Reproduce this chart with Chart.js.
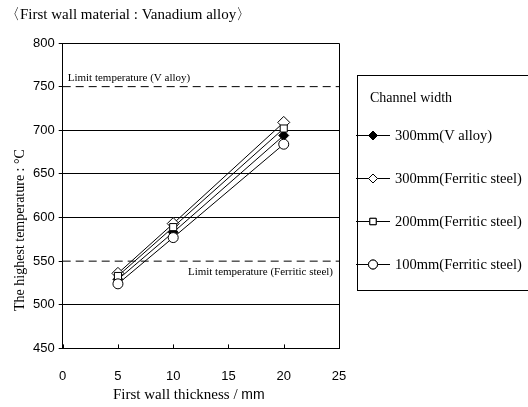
<!DOCTYPE html>
<html>
<head>
<meta charset="utf-8">
<script src="https://cdn.jsdelivr.net/npm/chart.js@4"></script>
<style>
  html, body { margin: 0; padding: 0; background: #fff; }
  #wrap { width: 528px; height: 407px; position: relative; }
</style>
</head>
<body>
<div id="wrap"><canvas id="chart"></canvas></div>
<script>
// data
const thickness = [5, 10, 20];
const vAlloy300 = [529, 583, 694];
const ferritic300 = [536, 593, 709];
const ferritic200 = [533, 589, 702];
const ferritic100 = [524, 577, 684];
const seriesLabels = ["300mm(V alloy)", "300mm(Ferritic steel)", "200mm(Ferritic steel)", "100mm(Ferritic steel)"];
const limitV = 750;
const limitFerritic = 550;
const xTicks = [0, 5, 10, 15, 20, 25];
const yTicks = [450, 500, 550, 600, 650, 700, 750, 800];

const serif = "'Liberation Serif', 'Times New Roman', serif";
const sans = "'Liberation Sans', Arial, sans-serif";

const pts = (ys) => thickness.map((x, i) => ({ x: x, y: ys[i] }));
const limitLine = (v) => [{ x: 0, y: v }, { x: 25, y: v }];

const seriesStyle = [
  { style: "rectRot", fill: "#000", r: 5 },
  { style: "rectRot", fill: "#fff", r: 6 },
  { style: "rect", fill: "#fff", r: 5 },
  { style: "circle", fill: "#fff", r: 5 },
];
const seriesData = [vAlloy300, ferritic300, ferritic200, ferritic100];

const datasets = seriesData.map((ys, i) => ({
  label: seriesLabels[i],
  data: pts(ys),
  borderColor: "#000",
  borderWidth: 1,
  pointStyle: seriesStyle[i].style,
  pointRadius: seriesStyle[i].r,
  pointBackgroundColor: seriesStyle[i].fill,
  pointBorderColor: "#000",
  pointBorderWidth: 1,
  order: 4 - i,
}));

// dashed limit lines
datasets.push({ label: "limitV", data: limitLine(limitV), borderColor: "#000", borderWidth: 1, borderDash: [8, 5], pointRadius: 0, order: 10 });
datasets.push({ label: "limitF", data: limitLine(limitFerritic), borderColor: "#000", borderWidth: 1, borderDash: [8, 5], pointRadius: 0, order: 10 });

// plot box, legend, axis titles, limit labels and inward x ticks
const extras = {
  id: "extras",
  afterDraw(chart) {
    const ctx = chart.ctx;
    const xs = chart.scales.x, ys = chart.scales.y;
    const area = chart.chartArea;
    ctx.save();
    ctx.strokeStyle = "#000";
    ctx.lineWidth = 1;
    // top and right edges of the plot box
    ctx.beginPath();
    ctx.moveTo(area.left, Math.round(area.top) + 0.5);
    ctx.lineTo(Math.round(area.right) + 0.5, Math.round(area.top) + 0.5);
    ctx.lineTo(Math.round(area.right) + 0.5, area.bottom);
    ctx.stroke();
    // x tick marks pointing up
    xTicks.forEach(t => {
      const px = Math.round(xs.getPixelForValue(t)) + 0.5;
      ctx.beginPath();
      ctx.moveTo(px, area.bottom);
      ctx.lineTo(px, area.bottom - 4);
      ctx.stroke();
    });
    ctx.fillStyle = "#000";
    // y axis title (sits lower than centre in the original)
    ctx.save();
    ctx.translate(20, 230);
    ctx.rotate(-Math.PI / 2);
    ctx.font = "14px " + serif;
    ctx.textAlign = "center";
    ctx.textBaseline = "middle";
    ctx.fillText("The highest temperature : \u00B0C", 0, 0);
    ctx.restore();
    // x axis title, serif words with a sans "mm"
    ctx.textAlign = "left";
    ctx.textBaseline = "alphabetic";
    ctx.font = "15px " + serif;
    const head = "First wall thickness / ";
    ctx.fillText(head, 113, 399);
    const w = ctx.measureText(head).width;
    ctx.font = "14px " + sans;
    ctx.fillText("mm", 113 + w, 399);
    // limit labels
    ctx.font = "11px " + serif;
    ctx.fillText("Limit temperature (V alloy)", area.left + 5, ys.getPixelForValue(limitV) - 6);
    ctx.textAlign = "right";
    ctx.fillText("Limit temperature (Ferritic steel)", area.right - 6, ys.getPixelForValue(limitFerritic) + 14);

    // legend box
    const lx = 357, ly = 75, lw = 175, lh = 215;
    ctx.strokeRect(lx + 0.5, ly + 0.5, lw, lh);
    ctx.textAlign = "left";
    ctx.textBaseline = "middle";
    ctx.font = "14px " + serif;
    ctx.fillText("Channel width", 370, 98);
    ctx.font = "14.5px " + serif;
    seriesLabels.forEach((lab, i) => {
      const y = Math.round(135 + i * 43);
      ctx.beginPath();
      ctx.moveTo(356, y + 0.5);
      ctx.lineTo(390, y + 0.5);
      ctx.stroke();
      ctx.fillStyle = seriesStyle[i].fill;
      ctx.strokeStyle = "#000";
      Chart.helpers.drawPoint(ctx, { pointStyle: seriesStyle[i].style, radius: 4.5, rotation: 0, borderWidth: 1 }, 373, y + 0.5);
      ctx.fill();
      ctx.stroke();
      ctx.fillStyle = "#000";
      ctx.fillText(lab, 395, y + 1);
    });
    ctx.restore();
  }
};

new Chart(document.getElementById("chart"), {
  type: "line",
  data: { datasets: datasets },
  plugins: [extras],
  options: {
    responsive: true,
    maintainAspectRatio: false,
    animation: false,
    layout: { padding: { left: 5, right: 189, top: 0, bottom: 11 } },
    plugins: {
      legend: { display: false },
      tooltip: { enabled: false },
      title: {
        display: true,
        text: "\u3008First wall material : Vanadium alloy\u3009",
        align: "start",
        color: "#000",
        font: { family: serif, size: 15, weight: "normal" },
        padding: { top: 6, bottom: 19 },
      },
    },
    scales: {
      x: {
        type: "linear",
        min: 0,
        max: 25,
        afterBuildTicks: (s) => { s.ticks = xTicks.map(v => ({ value: v })); },
        grid: { display: false },
        border: { color: "#000", width: 1 },
        ticks: { color: "#000", font: { family: sans, size: 13 }, padding: 12, maxRotation: 0 },
      },
      y: {
        min: 450,
        max: 800,
        afterBuildTicks: (s) => { s.ticks = yTicks.map(v => ({ value: v })); },
        afterFit: (s) => { s.width += 24; }, // room for the hand-drawn axis title
        grid: {
          color: (c) => (c.tick && (c.tick.value === limitV || c.tick.value === limitFerritic)) ? "rgba(0,0,0,0)" : "#000",
          tickLength: 4,
          tickColor: "#000",
          lineWidth: 1,
        },
        border: { color: "#000", width: 1 },
        ticks: { color: "#000", font: { family: sans, size: 13 }, padding: 4 },
      },
    },
  },
});
</script>
</body>
</html>
